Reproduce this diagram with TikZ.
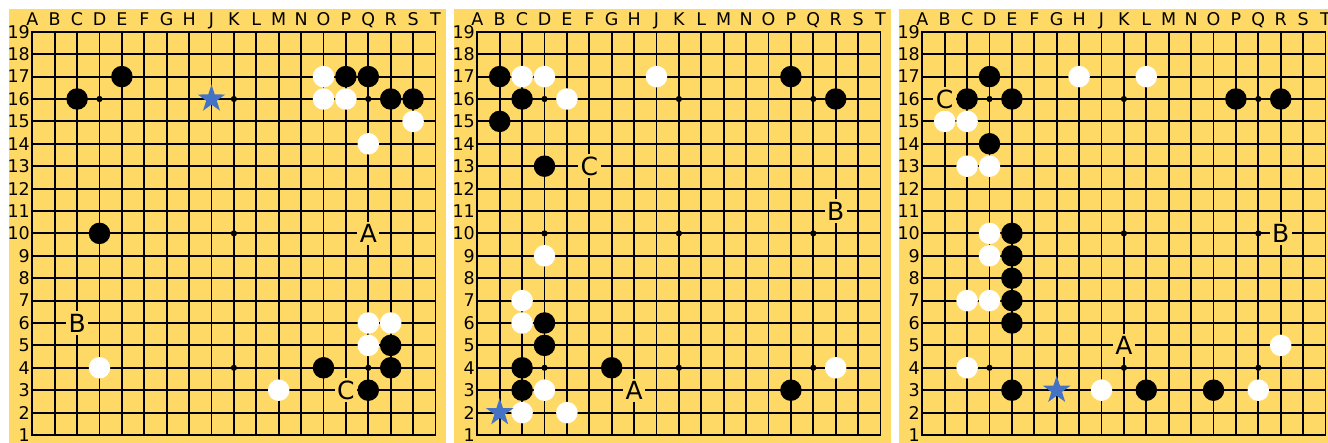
\documentclass[tikz,border=0pt]{standalone}
\usepackage{fontspec}
\newfontfamily\gofont{DejaVu Sans}
\usetikzlibrary{shapes.geometric}
\definecolor{goBoard}{RGB}{255,217,102}
\definecolor{goMark}{RGB}{68,114,196}
\tikzset{
  go/wood/.style={fill=goBoard, draw=none},
  go/grid/.style={line width=1.9pt, line join=miter},
  go/stone/.style={circle, inner sep=0pt, minimum size=21.5pt},
  go/black/.style={go/stone, fill=black},
  go/white/.style={go/stone, fill=white},
  go/hoshi/.style={circle, fill=black, inner sep=0pt, minimum size=6.2pt},
  go/last/.style={star, star points=5, star point ratio=2.6, fill=goMark,
                  inner sep=0pt, minimum size=29pt},
  go/coord/.style={inner sep=0pt, font=\fontsize{17.5}{18}\gofont},
  go/letter/.style={fill=goBoard, inner sep=2.5pt, font=\fontsize{25}{26}\gofont},
}

\begin{document}
\begin{tikzpicture}[x=1pt, y=1pt]
  \useasboundingbox (0,0) rectangle (1328,443);
  \clip (0,0) rectangle (1328,443);

  % ---------------- three empty boards ----------------
  % grid point (1,1) is A1; one grid step is 22.4pt
  \foreach \b in {0,1,2} {
    \begin{scope}[xshift={9.9pt+445pt*\b}, yshift=-14.4pt, x=22.4pt, y=22.4pt]
      \fill[go/wood] (-0.04,0.3) rectangle (19.45,20.0);
      \draw[go/grid] (1,1) rectangle (19,19);
      \foreach \i in {2,...,18} {
        \draw[go/grid] (\i,1) -- (\i,19);
        \draw[go/grid] (1,\i) -- (19,\i);
      }
      \foreach \c in {4,10,16}
        \foreach \r in {4,10,16}
          \node[go/hoshi] (h\b-\c-\r) at (\c,\r) {};
      \foreach \l [count=\i] in {A,B,C,D,E,F,G,H,J,K,L,M,N,O,P,Q,R,S,T}
        \node[go/coord, anchor=base] (col\b-\i) at (\i,19.28) {\l};
      \foreach \r in {1,...,19}
        \node[go/coord, anchor=east] (row\b-\r) at (0.9,\r) {\r};
    \end{scope}
  }

  % ---------------- board 1 ----------------
  \begin{scope}[xshift=9.9pt, yshift=-14.4pt, x=22.4pt, y=22.4pt]
    \foreach \c/\r in {3/16,5/17,4/10,15/17,16/17,17/16,18/16,17/5,17/4,14/4,16/3}
      \node[go/black] (k1-\c-\r) at (\c,\r) {};
    \foreach \c/\r in {14/17,14/16,15/16,18/15,16/14,16/6,17/6,16/5,4/4,12/3}
      \node[go/white] (w1-\c-\r) at (\c,\r) {};
    \node[go/last] (last1) at (9,16) {};
    \node[go/letter] (mA1) at (16,10) {A};
    \node[go/letter] (mB1) at (3,6) {B};
    \node[go/letter] (mC1) at (15,3) {C};
  \end{scope}

  % ---------------- board 2 ----------------
  \begin{scope}[xshift=454.9pt, yshift=-14.4pt, x=22.4pt, y=22.4pt]
    \foreach \c/\r in {2/17,3/16,2/15,4/13,4/6,4/5,3/4,3/3,7/4,15/17,17/16,15/3}
      \node[go/black] (k2-\c-\r) at (\c,\r) {};
    \foreach \c/\r in {3/17,4/17,5/16,9/17,4/9,3/7,3/6,4/3,3/2,5/2,17/4}
      \node[go/white] (w2-\c-\r) at (\c,\r) {};
    \node[go/last] (last2) at (2,2) {};
    \node[go/letter] (mA2) at (8,3) {A};
    \node[go/letter] (mB2) at (17,11) {B};
    \node[go/letter] (mC2) at (6,13) {C};
  \end{scope}

  % ---------------- board 3 ----------------
  \begin{scope}[xshift=899.9pt, yshift=-14.4pt, x=22.4pt, y=22.4pt]
    \foreach \c/\r in {4/17,3/16,5/16,4/14,5/10,5/9,5/8,5/7,5/6,5/3,11/3,14/3,15/16,17/16}
      \node[go/black] (k3-\c-\r) at (\c,\r) {};
    \foreach \c/\r in {8/17,11/17,2/15,3/15,3/13,4/13,4/10,4/9,3/7,4/7,3/4,9/3,16/3,17/5}
      \node[go/white] (w3-\c-\r) at (\c,\r) {};
    \node[go/last] (last3) at (7,3) {};
    \node[go/letter] (mA3) at (10,5) {A};
    \node[go/letter] (mB3) at (17,10) {B};
    \node[go/letter] (mC3) at (2,16) {C};
  \end{scope}

\end{tikzpicture}
\end{document}
